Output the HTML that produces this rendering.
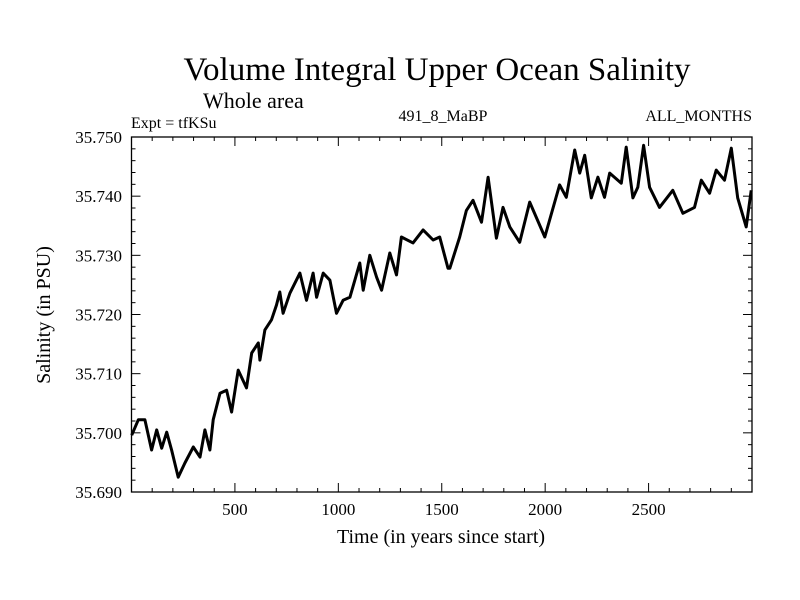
<!DOCTYPE html>
<html><head><meta charset="utf-8"><style>
body{margin:0;background:#fff}
svg{display:block;font-family:"Liberation Serif",serif}
</style></head><body>
<svg id="chart" width="800" height="600" viewBox="0 0 800 600">
<text x="437" y="80" font-size="33" text-anchor="middle">Volume Integral Upper Ocean Salinity</text>
<text x="203" y="108" font-size="22">Whole area</text>
<text x="131" y="128" font-size="16">Expt = tfKSu</text>
<text x="443" y="121" font-size="16" text-anchor="middle">491_8_MaBP</text>
<text x="752" y="121" font-size="16" text-anchor="end">ALL_MONTHS</text>
<text x="441" y="543" font-size="20" text-anchor="middle">Time (in years since start)</text>
<text transform="translate(50,315) rotate(-90)" font-size="20" text-anchor="middle">Salinity (in PSU)</text>
<g id="axes"></g>
<path id="series" fill="none" stroke="#000" stroke-width="3" stroke-linejoin="round"></path>
<rect x="131.5" y="137" width="620.5" height="355" fill="none" stroke="#000" stroke-width="1.3"></rect>
</svg>
<script>
const years=[1,33,65,97,122,146,170,194,226,258,299,331,355,379,395,428,460,484,516,556,581,613,621,645,677,701,717,733,766,814,846,878,895,927,959,991,1023,1056,1104,1120,1152,1185,1209,1249,1281,1305,1361,1410,1458,1490,1530,1539,1587,1619,1651,1692,1724,1764,1796,1829,1877,1925,1998,2070,2102,2143,2167,2191,2223,2255,2287,2312,2368,2392,2424,2448,2476,2505,2553,2617,2666,2722,2755,2795,2827,2867,2900,2931,2972,2996];
const salinity=[35.6996,35.7022,35.7022,35.6971,35.7005,35.6974,35.7001,35.6971,35.6925,35.6949,35.6976,35.6959,35.7005,35.6971,35.7022,35.7067,35.7072,35.7035,35.7106,35.7076,35.7135,35.7152,35.7123,35.7174,35.7191,35.7216,35.7238,35.7202,35.7236,35.7270,35.7224,35.7270,35.7229,35.7270,35.7258,35.7202,35.7224,35.7229,35.7287,35.7241,35.7300,35.7263,35.7241,35.7304,35.7267,35.7331,35.7321,35.7343,35.7326,35.7331,35.7278,35.7278,35.7331,35.7376,35.7393,35.7356,35.7432,35.7329,35.7381,35.7348,35.7322,35.7390,35.7331,35.7419,35.7398,35.7478,35.7439,35.7469,35.7397,35.7432,35.7398,35.7439,35.7422,35.7483,35.7397,35.7415,35.7486,35.7415,35.7381,35.7410,35.7371,35.7381,35.7427,35.7405,35.7444,35.7427,35.7481,35.7397,35.7348,35.7410];
const xTicks=[500,1000,1500,2000,2500];
const yTicks=[35.690,35.700,35.710,35.720,35.730,35.740,35.750];
const X0=131.5,X1=752,Y0=492,Y1=137,XMIN=0,XMAX=3000,YMIN=35.690,YMAX=35.750;
const xs=v=>X0+(v-XMIN)/(XMAX-XMIN)*(X1-X0);
const ys=v=>Y0-(v-YMIN)/(YMAX-YMIN)*(Y0-Y1);
const NS="http://www.w3.org/2000/svg";
const ax=document.getElementById('axes');
function ln(x1,y1,x2,y2,name){const l=document.createElementNS(NS,'line');l.setAttribute('x1',x1);l.setAttribute('y1',y1);l.setAttribute('x2',x2);l.setAttribute('y2',y2);l.setAttribute('stroke','#000');l.setAttribute('stroke-width','1');


ax.appendChild(l);}
function tx(x,y,s,anchor,name){const t=document.createElementNS(NS,'text');t.setAttribute('x',x);t.setAttribute('y',y);t.setAttribute('font-size','17');t.setAttribute('text-anchor',anchor);t.textContent=s;


ax.appendChild(t);}
for(let v=100;v<3000;v+=100){const major=v%500===0;const L=major?9:4;const x=xs(v);
ln(x,Y0,x,Y0-L,'x-tick');ln(x,Y1,x,Y1+L,'x-tick-top');}
for(let i=1;i<30;i++){const v=YMIN+i*0.002;const major=i%5===0;const L=major?9:4;const y=ys(v);
ln(X0,y,X0+L,y,'y-tick');ln(X1,y,X1-L,y,'y-tick-right');}
xTicks.forEach(v=>tx(xs(v),515,String(v),'middle','x-tick-label'));
yTicks.forEach(v=>tx(122,ys(v)+6,v.toFixed(3),'end','y-tick-label'));
let d='';years.forEach((yr,i)=>{d+=(i?'L':'M')+xs(yr).toFixed(1)+','+ys(salinity[i]).toFixed(1);});
document.getElementById('series').setAttribute('d',d);
</script>
</body></html>
